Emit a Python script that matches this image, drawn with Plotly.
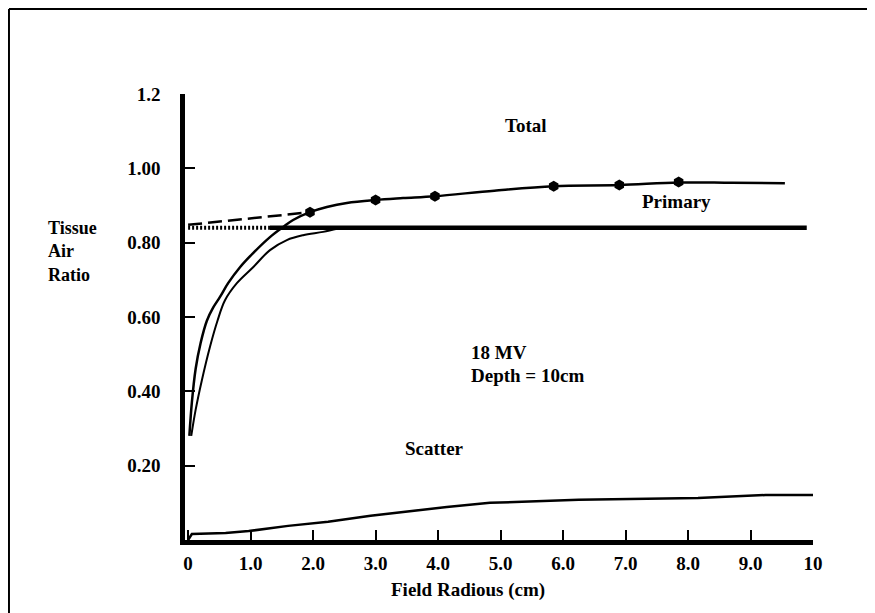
import plotly.graph_objects as go

# Total curve (smooth line) and measured points
total_x = [0.02, 0.06, 0.12, 0.2, 0.3, 0.4, 0.51, 0.64, 0.83, 1.04, 1.31, 1.52, 1.68, 1.95,
           2.22, 2.54, 3.0, 3.44, 3.95, 4.9, 5.85, 6.9, 7.85, 8.7, 9.55]
total_y = [0.28, 0.37, 0.46, 0.53, 0.59, 0.625, 0.654, 0.691, 0.734, 0.772, 0.815, 0.842,
           0.861, 0.882, 0.896, 0.907, 0.915, 0.920, 0.925, 0.94, 0.952, 0.955, 0.962, 0.961, 0.96]
pts_x = [1.95, 3.0, 3.95, 5.85, 6.9, 7.85]
pts_y = [0.882, 0.915, 0.925, 0.952, 0.955, 0.963]

# Primary build-up curve, flat primary level, dotted and dashed extrapolations
prim_x = [0.05, 0.12, 0.22, 0.35, 0.47, 0.59, 0.78, 1.04, 1.31, 1.58, 1.84, 2.16, 2.4]
prim_y = [0.28, 0.35, 0.43, 0.52, 0.59, 0.645, 0.691, 0.734, 0.78, 0.807, 0.82, 0.829, 0.838]
flat_x = [1.31, 9.9]
flat_y = [0.84, 0.84]
dot_x = [0.0, 1.31]
dot_y = [0.84, 0.84]
dash_x = [0.0, 1.95]
dash_y = [0.848, 0.882]

# Scatter component
scat_x = [0.0, 0.06, 0.6, 0.97, 1.6, 2.24, 2.92, 4.14, 4.83, 6.25, 8.16, 9.24, 10.0]
scat_y = [0.0, 0.016, 0.019, 0.024, 0.038, 0.049, 0.065, 0.089, 0.1, 0.108, 0.113, 0.121, 0.121]

x_ticks = [0, 1, 2, 3, 4, 5, 6, 7, 8, 9, 10]
x_labels = ["0", "1.0", "2.0", "3.0", "4.0", "5.0", "6.0", "7.0", "8.0", "9.0", "10"]
y_ticks = [0.2, 0.4, 0.6, 0.8, 1.0, 1.2]
y_labels = ["0.20", "0.40", "0.60", "0.80", "1.00", "1.2"]

FONT = "Liberation Serif"
FS = 19
fig = go.Figure()
fig.add_trace(go.Scatter(x=dot_x, y=dot_y, mode="lines",
                         line=dict(color="black", width=4, dash="2px,2px")))
fig.add_trace(go.Scatter(x=dash_x, y=dash_y, mode="lines",
                         line=dict(color="black", width=2.5, dash="14px,6px")))
fig.add_trace(go.Scatter(x=flat_x, y=flat_y, mode="lines",
                         line=dict(color="black", width=4.5)))
fig.add_trace(go.Scatter(x=prim_x, y=prim_y, mode="lines", line_shape="spline",
                         line=dict(color="black", width=2)))
fig.add_trace(go.Scatter(x=total_x, y=total_y, mode="lines", line_shape="spline",
                         line=dict(color="black", width=2.5)))
fig.add_trace(go.Scatter(x=pts_x, y=pts_y, mode="markers",
                         marker=dict(color="black", size=11, symbol="hexagon")))
fig.add_trace(go.Scatter(x=scat_x, y=scat_y, mode="lines",
                         line=dict(color="black", width=2.5)))

fig.update_xaxes(range=[-0.05, 10.0], tickvals=x_ticks,
                 ticktext=["<b>%s</b>" % s for s in x_labels],
                 ticks="inside", ticklen=10, tickwidth=2, tickcolor="black",
                 showline=True, linewidth=4.5, linecolor="black", showgrid=False, zeroline=False,
                 tickfont=dict(family=FONT, size=FS, color="black"), ticklabelstandoff=2)
fig.update_yaxes(range=[0, 1.2], tickvals=y_ticks,
                 ticktext=["<b>%s</b>" % s for s in y_labels],
                 ticks="inside", ticklen=10, tickwidth=2, tickcolor="black",
                 showline=True, linewidth=4.5, linecolor="black", showgrid=False, zeroline=False,
                 tickfont=dict(family=FONT, size=FS, color="black"), ticklabelstandoff=16)

def txt(x, y, s, xanchor="center", xref="x", yref="y", size=FS):
    fig.add_annotation(x=x, y=y, xref=xref, yref=yref, text=s, showarrow=False,
                       xanchor=xanchor, yanchor="middle", align="left",
                       font=dict(family=FONT, size=size, color="black"))

txt(5.4, 1.115, "<b>Total</b>")
txt(7.82, 0.912, "<b>Primary</b>")
txt(4.5, 0.505, "<b>18 MV</b>", xanchor="left")
txt(4.5, 0.442, "<b>Depth = 10cm</b>", xanchor="left")
txt(3.95, 0.245, "<b>Scatter</b>")
txt(0.45, -0.112, "<b>Field Radious (cm)</b>", xref="paper", yref="paper")
txt(-0.222, 0.646, "<b>Tissue<br>Air<br>Ratio</b>", xanchor="left", xref="paper", yref="paper",
    size=18)

# outer frame of the figure
for (x0, y0, x1, y1) in [(-0.2803, -0.2, -0.2803, 1.1906), (-0.2803, 1.1906, 1.0876, 1.1906),
                         (1.0876, 1.1906, 1.0876, -0.2)]:
    fig.add_shape(type="line", xref="paper", yref="paper", x0=x0, y0=y0, x1=x1, y1=y1,
                  line=dict(color="black", width=2))

fig.update_layout(width=867, height=605, showlegend=False,
                  margin=dict(l=177, r=62, t=86, b=73),
                  plot_bgcolor="white", paper_bgcolor="white")
fig.write_html("out.html")
